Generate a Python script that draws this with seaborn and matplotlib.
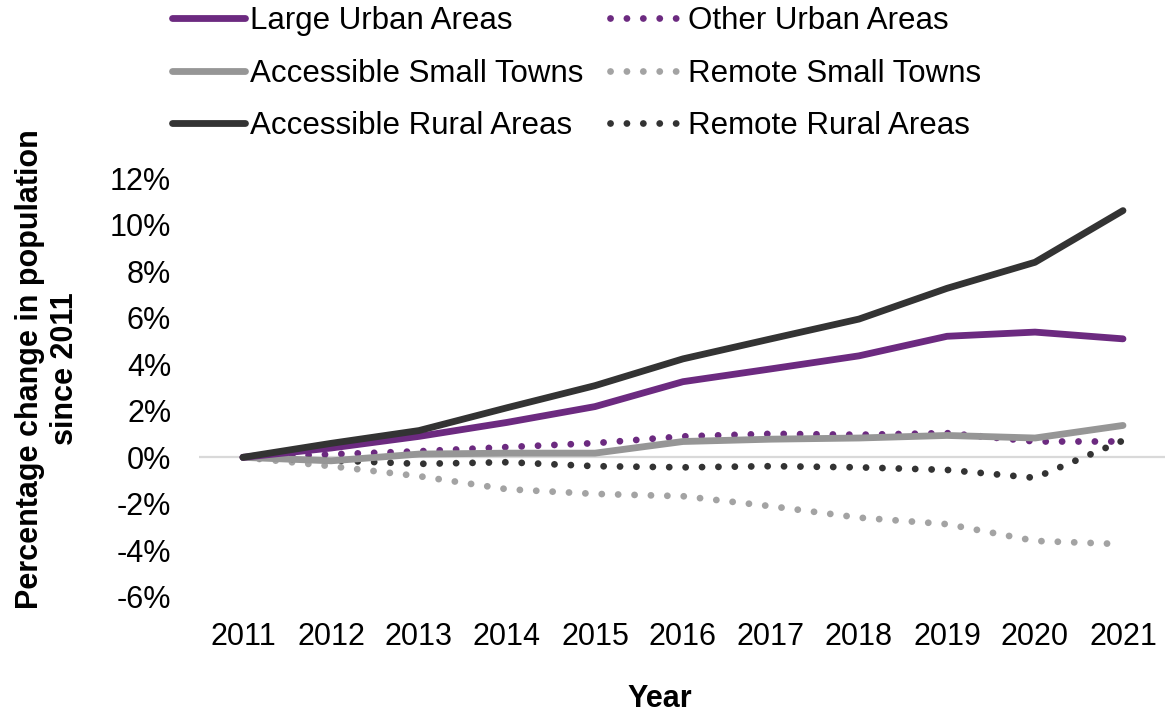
import matplotlib
matplotlib.use("Agg")
import matplotlib.pyplot as plt
import seaborn as sns
import pandas as pd

# Population change since 2011 by urban/rural classification (percent)
years = [2011, 2012, 2013, 2014, 2015, 2016, 2017, 2018, 2019, 2020, 2021]

large_urban = [0.0, 0.40, 0.90, 1.50, 2.18, 3.25, 3.80, 4.36, 5.20, 5.38, 5.09]
other_urban = [0.0, 0.13, 0.26, 0.44, 0.61, 0.90, 1.01, 0.97, 1.04, 0.68, 0.68]
accessible_small_towns = [0.0, -0.15, 0.14, 0.18, 0.18, 0.68, 0.78, 0.83, 0.94, 0.83, 1.37]
remote_small_towns = [0.0, -0.38, -0.81, -1.37, -1.57, -1.67, -2.10, -2.59, -2.87, -3.59, -3.73]
accessible_rural = [0.0, 0.60, 1.15, 2.13, 3.08, 4.23, 5.09, 5.94, 7.26, 8.38, 10.60]
remote_rural = [0.0, -0.13, -0.28, -0.21, -0.38, -0.43, -0.38, -0.43, -0.54, -0.88, 0.72]

y_ticks = [-6, -4, -2, 0, 2, 4, 6, 8, 10, 12]

PURPLE = "#6C2A80"
DARK = "#333333"
MID_GREY = "#969696"
LIGHT_GREY = "#A3A3A3"

# name, values, colour, dotted?
series = [
    ("Other Urban Areas", other_urban, PURPLE, True),
    ("Remote Small Towns", remote_small_towns, LIGHT_GREY, True),
    ("Remote Rural Areas", remote_rural, DARK, True),
    ("Accessible Small Towns", accessible_small_towns, MID_GREY, False),
    ("Large Urban Areas", large_urban, PURPLE, False),
    ("Accessible Rural Areas", accessible_rural, DARK, False),
]

sns.set_theme(style="white")
plt.rcParams["font.family"] = ["Liberation Sans", "DejaVu Sans"]
plt.rcParams["text.color"] = "black"

W, H = 1165, 715
fig = plt.figure(figsize=(W / 100, H / 100), dpi=100)
ax = fig.add_axes([199 / W, 1 - 597 / H, (1167 - 199) / W, (597 - 178) / H])

LW = 4.9
dot_pattern = (0.01, 2.4)

ax.axhline(0, color="#D9D9D9", lw=1.6, zorder=1)

handles = {}
for name, vals, colour, dotted in series:
    df = pd.DataFrame({"year": years, "change": vals})
    kw = dict(solid_capstyle="round", dash_capstyle="round")
    if dotted:
        kw["dashes"] = dot_pattern
    sns.lineplot(data=df, x="year", y="change", color=colour, linewidth=LW,
                 ax=ax, zorder=3, **kw)
    handles[name] = ax.get_lines()[-1]

ax.set_xlim(2010.5, 2021.5)
ax.set_ylim(-6, 12)
ax.set_xticks(years)
ax.set_xticklabels([str(y) for y in years], fontsize=22)
ax.set_yticks(y_ticks)
ax.set_yticklabels([f"{v}%" for v in y_ticks], fontsize=22)
ax.tick_params(axis="y", length=0, pad=20, colors="black")
ax.tick_params(axis="x", length=0, pad=18, colors="black")
for s in ax.spines.values():
    s.set_visible(False)
ax.grid(False)

ax.set_xlabel("Year", fontsize=22, fontweight="bold", color="black")
ax.xaxis.set_label_coords(660 / W, 1 - 684 / H, transform=fig.transFigure)
ax.set_ylabel("Percentage change in population\nsince 2011", fontsize=22,
              fontweight="bold", color="black", linespacing=1.2)
ax.yaxis.set_label_coords(80 / W, 1 - 369 / H, transform=fig.transFigure)

order = ["Large Urban Areas", "Accessible Small Towns", "Accessible Rural Areas",
         "Other Urban Areas", "Remote Small Towns", "Remote Rural Areas"]
leg = fig.legend([handles[n] for n in order], order, ncol=2, loc="upper left",
                 bbox_to_anchor=(172 / W, 1 - 6 / H), frameon=False, fontsize=22.5,
                 handlelength=2.35, handletextpad=0.15, columnspacing=0.85,
                 labelspacing=0.72, borderpad=0.0, borderaxespad=0.0,
                 labelcolor="black")

fig.savefig("out.png", dpi=100)
